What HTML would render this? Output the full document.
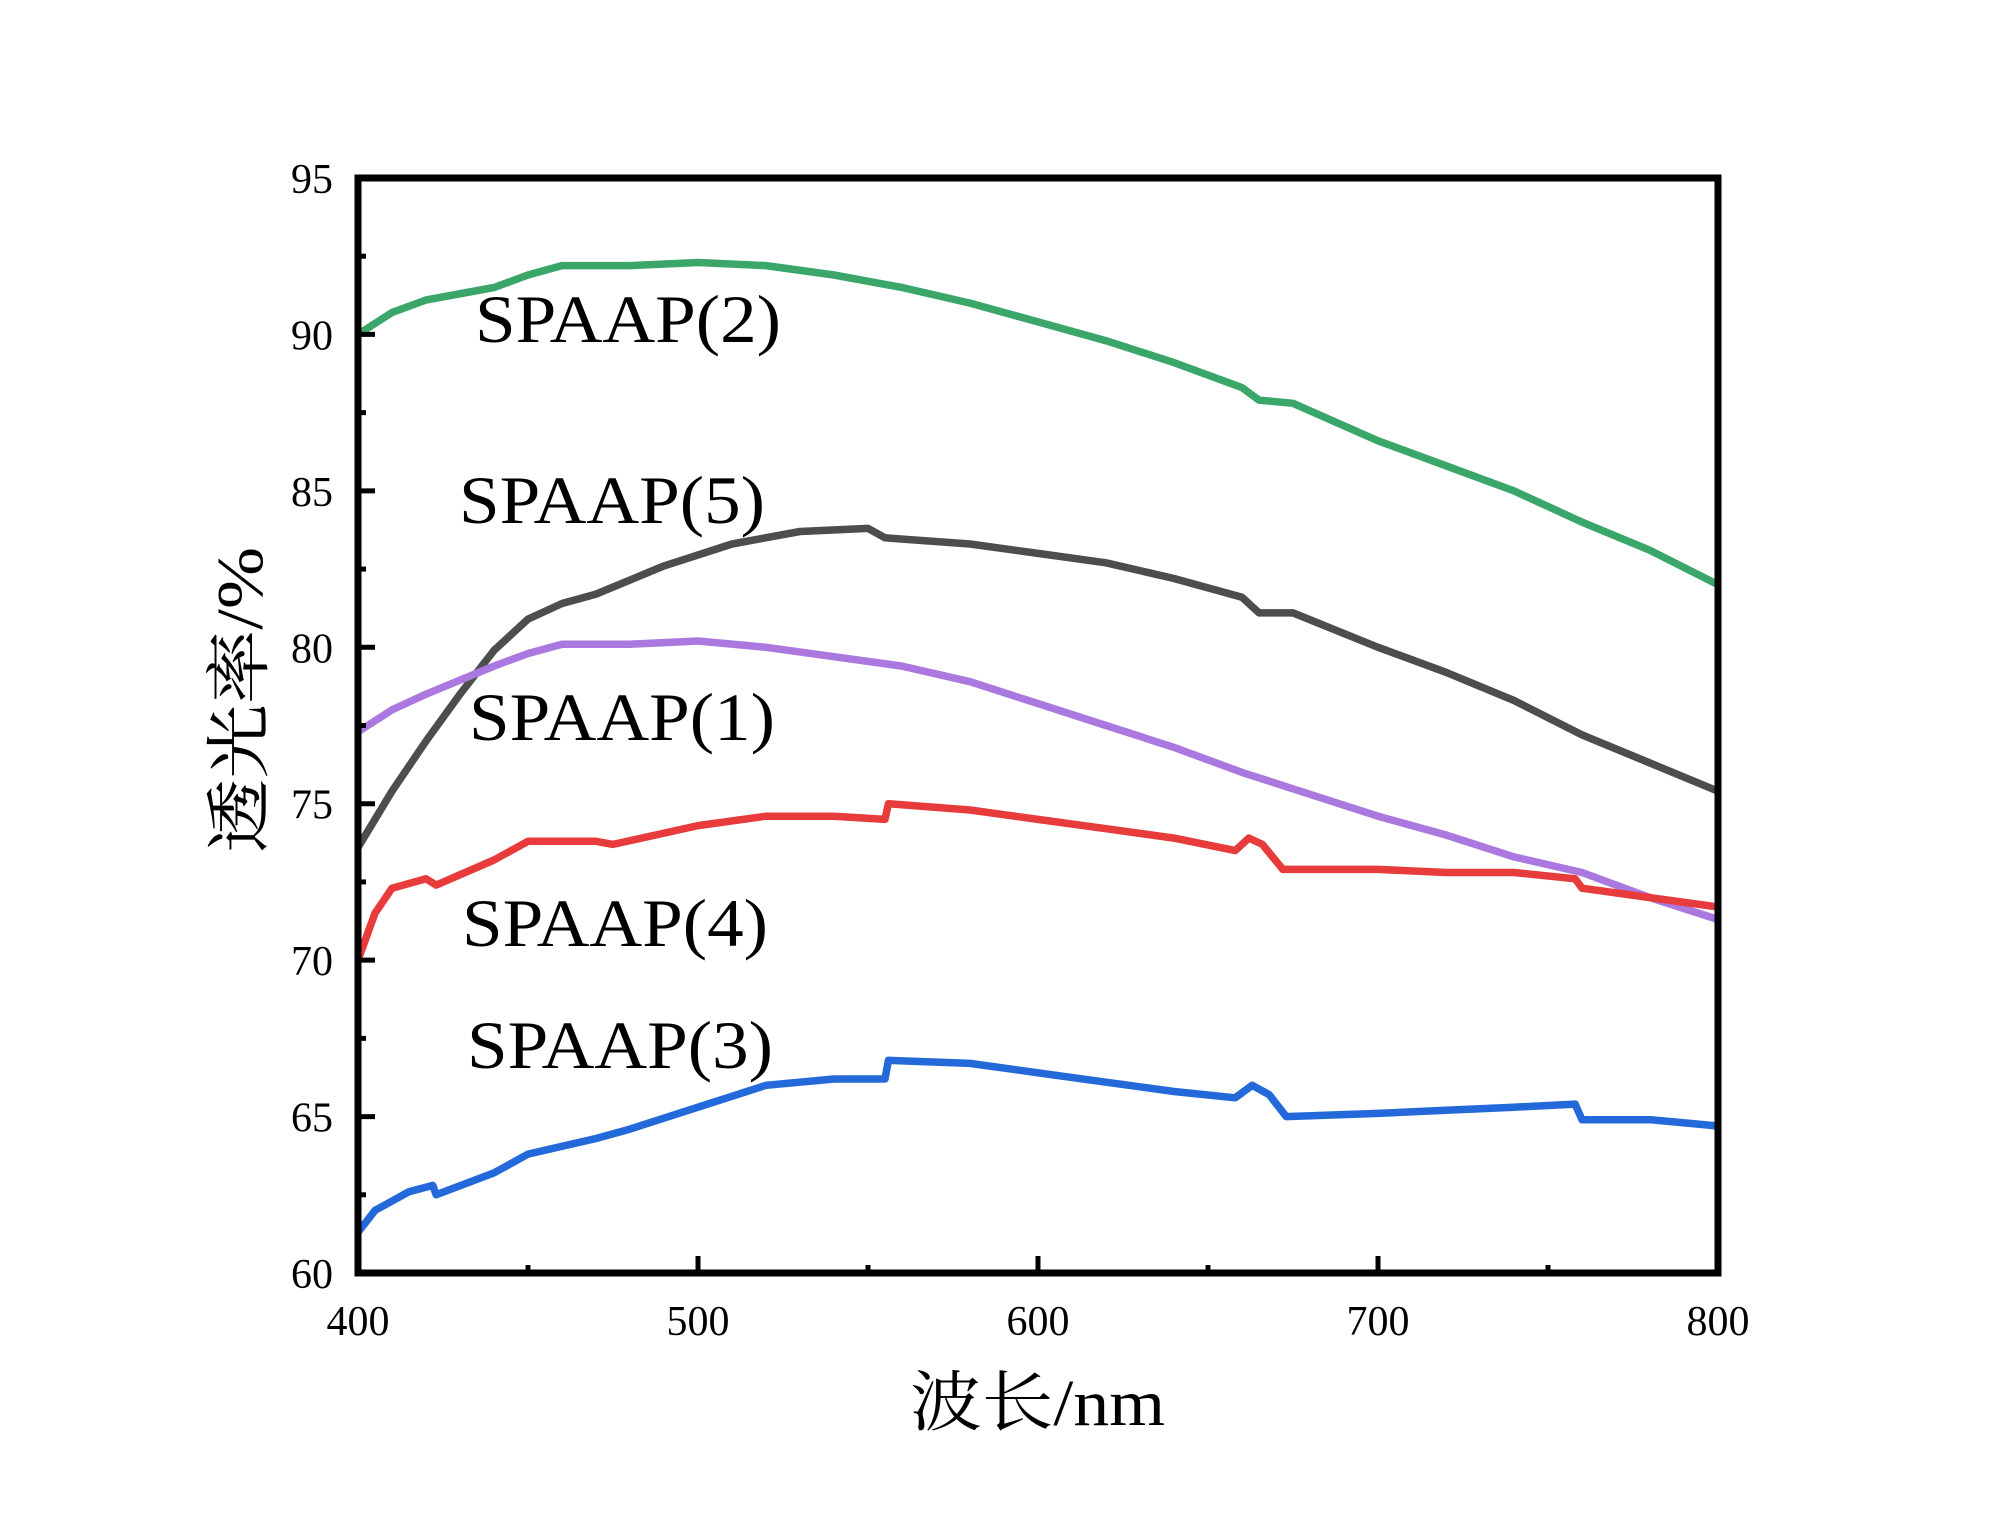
<!DOCTYPE html>
<html><head><meta charset="utf-8"><style>
html,body{margin:0;padding:0;background:#fff;}
svg{display:block;}
text{font-family:"Liberation Serif","Noto Serif CJK SC",serif;fill:#000;}
</style></head><body>
<svg id="chart" width="2000" height="1527" viewBox="0 0 2000 1527" xmlns="http://www.w3.org/2000/svg"></svg>
<script>
const xTicks = [400, 500, 600, 700, 800];
const yTicks = [60, 65, 70, 75, 80, 85, 90, 95];
const s2x = [400,410,420,440,450,460,480,500,520,540,560,580,600,620,640,660,665,675,700,720,740,760,780,800];
const s2y = [90.0,90.7,91.1,91.5,91.9,92.2,92.2,92.3,92.2,91.9,91.5,91.0,90.4,89.8,89.1,88.3,87.9,87.8,86.6,85.8,85.0,84.0,83.1,82.0];
const s5x = [400,410,420,430,440,450,460,470,490,510,530,550,555,580,600,620,640,660,665,675,700,720,740,760,780,800];
const s5y = [73.6,75.4,77.0,78.5,79.9,80.9,81.4,81.7,82.6,83.3,83.7,83.8,83.5,83.3,83.0,82.7,82.2,81.6,81.1,81.1,80.0,79.2,78.3,77.2,76.3,75.4];
const s1x = [400,410,420,440,450,460,480,500,520,540,560,580,600,620,640,660,680,700,720,740,760,780,800];
const s1y = [77.3,78.0,78.5,79.4,79.8,80.1,80.1,80.2,80.0,79.7,79.4,78.9,78.2,77.5,76.8,76.0,75.3,74.6,74.0,73.3,72.8,72.0,71.3];
const s4x = [400,405,410,420,423,440,450,470,475,500,520,540,555,556,580,600,620,640,658,662,666,672,700,720,740,758,760,780,800];
const s4y = [70.0,71.5,72.3,72.6,72.4,73.2,73.8,73.8,73.7,74.3,74.6,74.6,74.5,75.0,74.8,74.5,74.2,73.9,73.5,73.9,73.7,72.9,72.9,72.8,72.8,72.6,72.3,72.0,71.7];
const s3x = [400,405,415,422,423,440,450,470,480,500,520,540,555,556,580,600,620,640,658,663,668,673,700,720,740,758,760,780,800];
const s3y = [61.3,62.0,62.6,62.8,62.5,63.2,63.8,64.3,64.6,65.3,66.0,66.2,66.2,66.8,66.7,66.4,66.1,65.8,65.6,66.0,65.7,65.0,65.1,65.2,65.3,65.4,64.9,64.9,64.7];

const L=358,R=1718,T=178,B=1273;
const sx=v=>L+(v-400)/400*(R-L);
const sy=v=>B-(v-60)/35*(B-T);
const NS="http://www.w3.org/2000/svg";
const svg=document.getElementById('chart');
function mk(tag,attrs,parent){const e=document.createElementNS(NS,tag);for(const k in attrs)e.setAttribute(k,attrs[k]);(parent||svg).appendChild(e);return e;}

const series=[
 {x:s2x,y:s2y,c:'#3aa66a',n:'series-spaap-2'},
 {x:s5x,y:s5y,c:'#4d4d4d',n:'series-spaap-5'},
 {x:s1x,y:s1y,c:'#ab78df',n:'series-spaap-1'},
 {x:s4x,y:s4y,c:'#e83b3b',n:'series-spaap-4'},
 {x:s3x,y:s3y,c:'#2369d9',n:'series-spaap-3'}
];
const g=mk('g',{});


series.forEach(s=>{
  const d=s.x.map((v,i)=>(i?'L':'M')+sx(v).toFixed(1)+','+sy(s.y[i]).toFixed(1)).join(' ');
  const p=mk('path',{d:d,fill:'none',stroke:s.c,'stroke-width':7.5,'stroke-linejoin':'round'},g);
  
  
});

for(let v=400;v<=800;v+=50){
  const major=v%100===0, len=major?17:8;
  const t=mk('line',{x1:sx(v),x2:sx(v),y1:B,y2:B-len,stroke:'#000','stroke-width':5});
  
  
}
for(let v=60;v<=95;v+=2.5){
  const major=v%5===0, len=major?17:8;
  const t=mk('line',{x1:L,x2:L+len,y1:sy(v),y2:sy(v),stroke:'#000','stroke-width':5});
  
  
}
const frame=mk('rect',{x:L,y:T,width:R-L,height:B-T,fill:'none',stroke:'#000','stroke-width':7});



xTicks.forEach(v=>{
  const t=mk('text',{x:sx(v),y:1335,'font-size':42,'text-anchor':'middle'});
  t.textContent=v;
  
  
});
yTicks.forEach(v=>{
  const t=mk('text',{x:333,y:sy(v)+15,'font-size':42,'text-anchor':'end'});
  t.textContent=v;
  
  
});
</script>
<svg style="position:absolute;left:0;top:0" width="2000" height="1527">
<text x="910" y="1425" font-size="66" textLength="255" lengthAdjust="spacingAndGlyphs">波长/nm</text>
<text transform="translate(262,700) rotate(-90)" font-size="66" text-anchor="middle" textLength="306" lengthAdjust="spacingAndGlyphs">透光率/%</text>
<text x="475" y="342" font-size="68" textLength="306" lengthAdjust="spacingAndGlyphs">SPAAP(2)</text>
<text x="459" y="523" font-size="68" textLength="306" lengthAdjust="spacingAndGlyphs">SPAAP(5)</text>
<text x="469" y="740" font-size="68" textLength="306" lengthAdjust="spacingAndGlyphs">SPAAP(1)</text>
<text x="462" y="946" font-size="68" textLength="306" lengthAdjust="spacingAndGlyphs">SPAAP(4)</text>
<text x="467" y="1068" font-size="68" textLength="306" lengthAdjust="spacingAndGlyphs">SPAAP(3)</text>
</svg>
</body></html>
